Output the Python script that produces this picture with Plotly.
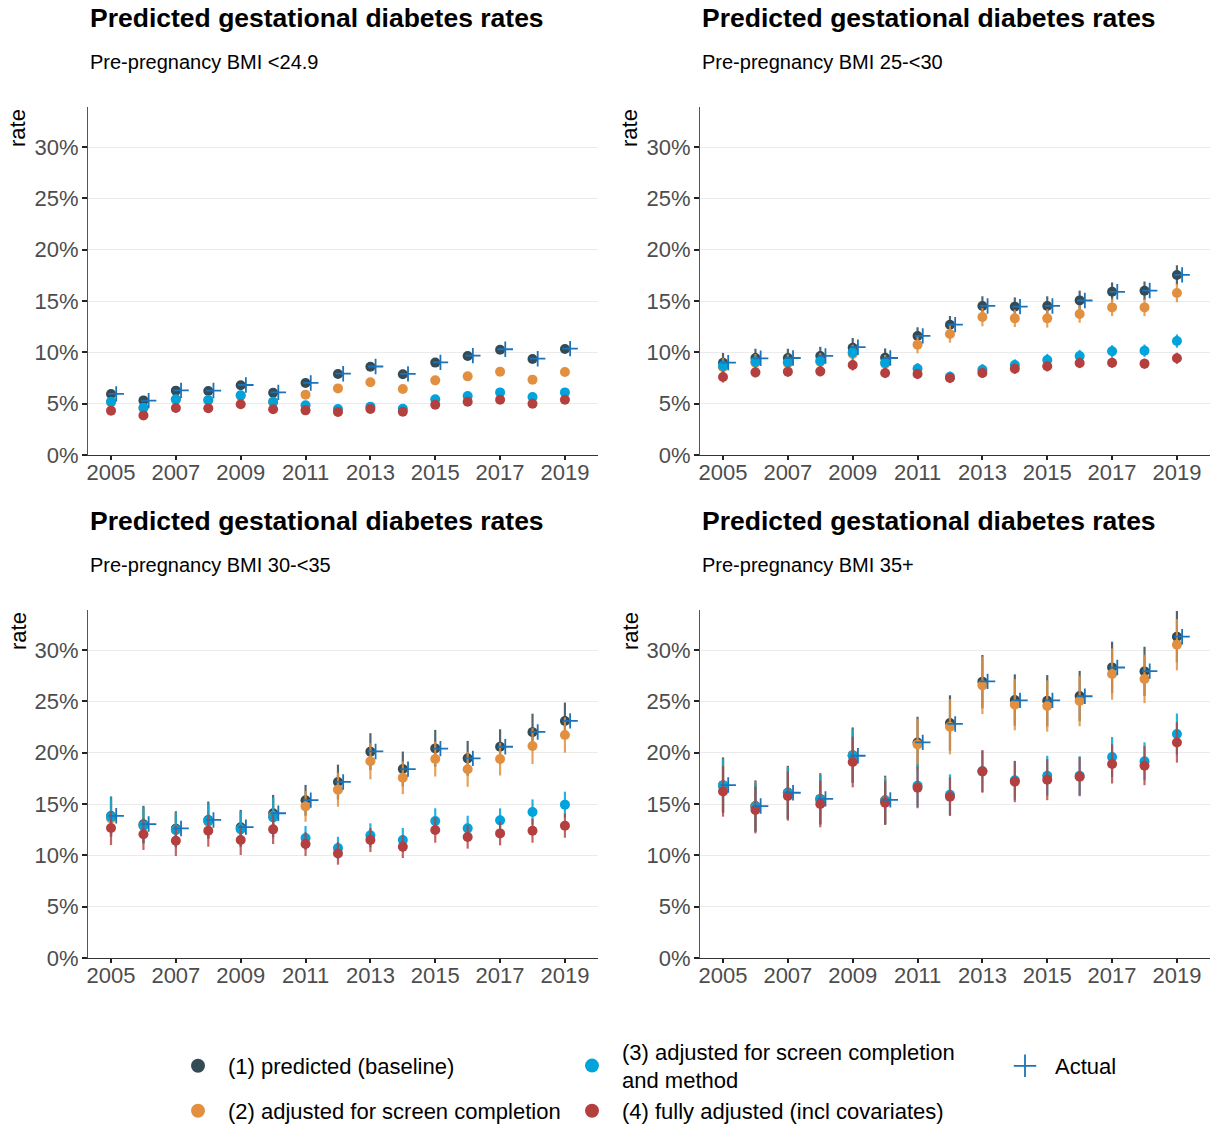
import plotly.graph_objects as go
from plotly.subplots import make_subplots

years = list(range(2005, 2020))
panel_subtitles = ["Pre-pregnancy BMI <24.9", "Pre-pregnancy BMI 25-<30",
                   "Pre-pregnancy BMI 30-<35", "Pre-pregnancy BMI 35+"]
series_names = ["(1) predicted (baseline)", "(2) adjusted for screen completion",
                "(3) adjusted for screen completion<br>and method",
                "(4) fully adjusted (incl covariates)"]
actual_name = "Actual"
y_tickvals = [0, 5, 10, 15, 20, 25, 30]
y_ticktext = ["0%", "5%", "10%", "15%", "20%", "25%", "30%"]
x_tickvals = [2005, 2007, 2009, 2011, 2013, 2015, 2017, 2019]

# ---- Panel 1: BMI <24.9 ----
p1_base = [5.94, 5.32, 6.27, 6.23, 6.79, 6.07, 7.01, 7.89, 8.60, 7.86, 9.00, 9.64, 10.26, 9.35, 10.32]
p1_scr = [5.15, 4.58, 5.38, 5.32, 5.78, 5.15, 5.88, 6.49, 7.08, 6.43, 7.27, 7.66, 8.12, 7.34, 8.08]
p1_meth = [5.19, 4.61, 5.42, 5.36, 5.81, 5.19, 4.84, 4.48, 4.71, 4.51, 5.42, 5.75, 6.10, 5.65, 6.10]
p1_full = [4.32, 3.86, 4.58, 4.55, 4.94, 4.45, 4.35, 4.19, 4.48, 4.22, 4.90, 5.19, 5.39, 5.00, 5.39]
p1_actual = [5.95, 5.30, 6.30, 6.28, 6.82, 6.10, 7.02, 7.92, 8.62, 7.90, 9.02, 9.68, 10.30, 9.38, 10.36]
p1_err_base = [0.3] * 15
p1_err_scr = [0.3] * 15
p1_err_meth = [0.2] * 15
p1_err_full = [0.2] * 15

# ---- Panel 2: BMI 25-<30 ----
p2_base = [8.99, 9.45, 9.45, 9.64, 10.45, 9.48, 11.59, 12.69, 14.51, 14.45, 14.51, 15.06, 15.91, 16.00, 17.53]
p2_scr = [8.55, 8.98, 8.95, 9.08, 9.85, 8.90, 10.75, 11.79, 13.44, 13.31, 13.31, 13.73, 14.38, 14.38, 15.78]
p2_meth = [8.67, 9.09, 9.03, 9.16, 10.00, 8.99, 8.41, 7.63, 8.31, 8.77, 9.25, 9.64, 10.10, 10.16, 11.10]
p2_full = [7.60, 8.05, 8.12, 8.15, 8.77, 7.99, 7.89, 7.50, 7.99, 8.41, 8.64, 8.96, 8.99, 8.90, 9.42]
p2_actual = [9.00, 9.42, 9.45, 9.65, 10.50, 9.45, 11.60, 12.70, 14.52, 14.45, 14.52, 15.05, 15.90, 16.02, 17.55]
p2_err_base = [0.95, 0.9, 0.9, 0.9, 0.95, 0.9, 0.85, 0.85, 0.95, 0.9, 0.95, 0.95, 0.9, 0.9, 0.95]
p2_err_scr = [0.9, 0.85, 0.85, 0.85, 0.9, 0.85, 0.85, 0.85, 0.9, 0.85, 0.9, 0.85, 0.85, 0.85, 0.9]
p2_err_meth = [0.65, 0.6, 0.6, 0.6, 0.65, 0.6, 0.55, 0.5, 0.55, 0.55, 0.6, 0.6, 0.6, 0.6, 0.65]
p2_err_full = [0.55, 0.5, 0.5, 0.5, 0.55, 0.5, 0.5, 0.45, 0.5, 0.5, 0.5, 0.5, 0.5, 0.5, 0.55]

# ---- Panel 3: BMI 30-<35 ----
p3_base = [13.83, 13.02, 12.60, 13.44, 12.73, 14.09, 15.36, 17.14, 20.10, 18.41, 20.42, 19.45, 20.58, 22.00, 23.08]
p3_scr = [13.60, 12.86, 12.47, 13.28, 12.53, 13.83, 14.77, 16.40, 19.16, 17.56, 19.38, 18.38, 19.38, 20.65, 21.72]
p3_meth = [13.77, 12.92, 12.47, 13.38, 12.56, 13.70, 11.69, 10.71, 11.95, 11.49, 13.34, 12.63, 13.41, 14.22, 14.94]
p3_full = [12.66, 12.05, 11.43, 12.40, 11.49, 12.53, 11.10, 10.19, 11.49, 10.84, 12.47, 11.79, 12.14, 12.40, 12.89]
p3_actual = [13.85, 13.05, 12.62, 13.45, 12.75, 14.10, 15.38, 17.15, 20.12, 18.40, 20.40, 19.45, 20.58, 22.02, 23.10]
p3_err_base = [1.9, 1.8, 1.7, 1.8, 1.7, 1.8, 1.5, 1.7, 1.8, 1.7, 1.8, 1.7, 1.7, 1.8, 1.8]
p3_err_scr = [1.8, 1.7, 1.7, 1.7, 1.7, 1.7, 1.5, 1.66, 1.76, 1.6, 1.7, 1.7, 1.6, 1.75, 1.72]
p3_err_meth = [1.94, 1.76, 1.69, 1.68, 1.76, 1.95, 1.17, 1.1, 1.17, 1.17, 1.24, 1.23, 1.17, 1.23, 1.26]
p3_err_full = [1.66, 1.53, 1.49, 1.56, 1.46, 1.43, 1.16, 1.1, 1.17, 1.1, 1.24, 1.14, 1.17, 1.17, 1.17]

# ---- Panel 4: BMI 35+ ----
p4_base = [16.84, 14.80, 16.12, 15.50, 19.76, 15.36, 21.00, 22.89, 26.92, 25.13, 25.06, 25.52, 28.31, 27.92, 31.30]
p4_scr = [16.80, 14.76, 16.08, 15.47, 19.72, 15.31, 20.81, 22.53, 26.56, 24.68, 24.55, 25.03, 27.66, 27.18, 30.52]
p4_meth = [16.79, 14.74, 16.07, 15.45, 19.71, 15.29, 16.79, 15.91, 18.18, 17.31, 17.76, 17.76, 19.58, 19.16, 21.82]
p4_full = [16.23, 14.42, 15.78, 15.00, 19.09, 15.13, 16.59, 15.71, 18.18, 17.18, 17.37, 17.66, 18.90, 18.73, 21.00]
p4_actual = [16.85, 14.80, 16.10, 15.50, 19.70, 15.40, 21.00, 22.80, 26.95, 25.10, 25.10, 25.50, 28.30, 27.95, 31.30]
p4_err_base = [2.7, 2.5, 2.6, 2.5, 2.7, 2.4, 2.5, 2.7, 2.6, 2.5, 2.5, 2.45, 2.5, 2.4, 2.5]
p4_err_scr = [2.6, 2.4, 2.5, 2.4, 2.6, 2.3, 2.5, 2.7, 2.8, 2.5, 2.5, 2.45, 2.5, 2.35, 2.5]
p4_err_meth = [2.6, 2.34, 2.5, 2.37, 2.6, 2.2, 2.07, 1.98, 2.0, 1.9, 1.94, 1.9, 1.95, 1.85, 2.0]
p4_err_full = [2.46, 2.28, 2.4, 2.27, 2.47, 2.1, 2.0, 1.88, 2.08, 2.0, 2.0, 1.9, 1.9, 1.9, 1.97]

panels = [
    (p1_base, p1_scr, p1_meth, p1_full, p1_actual, p1_err_base, p1_err_scr, p1_err_meth, p1_err_full),
    (p2_base, p2_scr, p2_meth, p2_full, p2_actual, p2_err_base, p2_err_scr, p2_err_meth, p2_err_full),
    (p3_base, p3_scr, p3_meth, p3_full, p3_actual, p3_err_base, p3_err_scr, p3_err_meth, p3_err_full),
    (p4_base, p4_scr, p4_meth, p4_full, p4_actual, p4_err_base, p4_err_scr, p4_err_meth, p4_err_full),
]

colors = ["#344A54", "#E2903F", "#00A4DA", "#B3403F"]
err_colors = ["rgba(52,74,84,0.85)", "rgba(226,144,63,0.85)", "rgba(0,164,218,0.85)", "rgba(179,64,63,0.8)"]
actual_color = "#1B74BA"
DODGE = 0.16

W, H = 1211, 1124
FONT = "Liberation Sans, Arial, sans-serif"

fig = make_subplots(rows=2, cols=2)

def px_x(p):
    return p / W

def px_y(p):
    return 1 - p / H

col_px = [(88, 598), (700, 1210)]
row_px = [(107, 455), (610, 958)]

for i, pdata in enumerate(panels):
    r, c = i // 2 + 1, i % 2 + 1
    vals = pdata[0:4]
    actual = pdata[4]
    errs = pdata[5:9]
    for s in range(4):
        fig.add_trace(go.Scatter(
            x=years, y=vals[s], mode="markers",
            marker=dict(color=colors[s], size=10),
            error_y=dict(type="data", array=errs[s], visible=True, width=0,
                         thickness=2.2, color=err_colors[s]),
            name=series_names[s], showlegend=False, hoverinfo="skip"),
            row=r, col=c)
    fig.add_trace(go.Scatter(
        x=[yv + DODGE for yv in years], y=actual, mode="markers",
        marker=dict(symbol="cross-thin", size=11, line=dict(color=actual_color, width=1.8)),
        name=actual_name, showlegend=False, hoverinfo="skip"),
        row=r, col=c)

# legend-only entries
legend_ids = ["legend", "legend3", "legend2", "legend4"]
for s in range(4):
    fig.add_trace(go.Scatter(
        x=[None], y=[None], mode="markers",
        marker=dict(color=colors[s], size=14),
        name=series_names[s], showlegend=True, legend=legend_ids[s]), row=1, col=1)
fig.add_trace(go.Scatter(
    x=[None], y=[None], mode="markers",
    marker=dict(symbol="cross-thin", size=16, line=dict(color=actual_color, width=1.8)),
    name=actual_name, showlegend=True, legend="legend5"), row=1, col=1)

axis_font = dict(family=FONT, size=22, color="#4D4D4D")
for i in range(4):
    r, c = i // 2, i % 2
    xa = "xaxis" if i == 0 else f"xaxis{i+1}"
    ya = "yaxis" if i == 0 else f"yaxis{i+1}"
    fig.layout[xa].update(
        domain=[px_x(col_px[c][0]), px_x(col_px[c][1])],
        range=[2004.29, 2020.02], tickmode="array", tickvals=x_tickvals,
        ticktext=[str(v) for v in x_tickvals],
        ticks="outside", ticklen=4, tickwidth=2, tickcolor="#222222",
        ticklabelstandoff=-7,
        showgrid=False, zeroline=False, showline=True, linecolor="#333333", linewidth=1.2,
        tickfont=axis_font)
    fig.layout[ya].update(
        domain=[px_y(row_px[r][1]), px_y(row_px[r][0])],
        range=[0, 33.9], tickmode="array", tickvals=y_tickvals, ticktext=y_ticktext,
        ticks="outside", ticklen=5, tickwidth=2, tickcolor="#222222",
        ticklabelstandoff=-1,
        showgrid=True, gridcolor="#EBEBEB", gridwidth=1, zeroline=False,
        showline=True, linecolor="#555555", linewidth=1, tickfont=axis_font)

annotations = []
for i in range(4):
    r, c = i // 2, i % 2
    x0 = col_px[c][0]
    ytop = 18 if r == 0 else 521
    annotations.append(dict(text="<b>Predicted gestational diabetes rates</b>", x=px_x(x0), y=px_y(ytop),
                            xref="paper", yref="paper", xanchor="left", yanchor="middle", showarrow=False,
                            font=dict(family=FONT, size=26.5, color="black")))
    annotations.append(dict(text=panel_subtitles[i], x=px_x(x0), y=px_y(ytop + 44),
                            xref="paper", yref="paper", xanchor="left", yanchor="middle", showarrow=False,
                            font=dict(family=FONT, size=20, color="black")))
    annotations.append(dict(text="rate", x=px_x(x0 - 70), y=px_y(row_px[r][0] + 21),
                            xref="paper", yref="paper", xanchor="center", yanchor="middle", showarrow=False,
                            textangle=-90, font=dict(family=FONT, size=22, color="black")))

leg_font = dict(family=FONT, size=22, color="black")
def leg(xpx, ypx):
    return dict(x=px_x(xpx), y=px_y(ypx), xanchor="left", yanchor="middle", itemwidth=50,
                font=leg_font, bgcolor="rgba(0,0,0,0)", borderwidth=0)

fig.update_layout(
    width=W, height=H, margin=dict(l=0, r=0, t=0, b=0, autoexpand=False),
    plot_bgcolor="white", paper_bgcolor="white",
    annotations=annotations,
    legend=leg(168, 1066),
    legend2=leg(562, 1066),
    legend3=leg(168, 1111),
    legend4=leg(562, 1111),
    legend5=leg(995, 1066),
)

fig.write_html("out.html", config={"displayModeBar": False},
               post_script="document.body.style.margin='0';document.body.style.overflow='hidden';")
